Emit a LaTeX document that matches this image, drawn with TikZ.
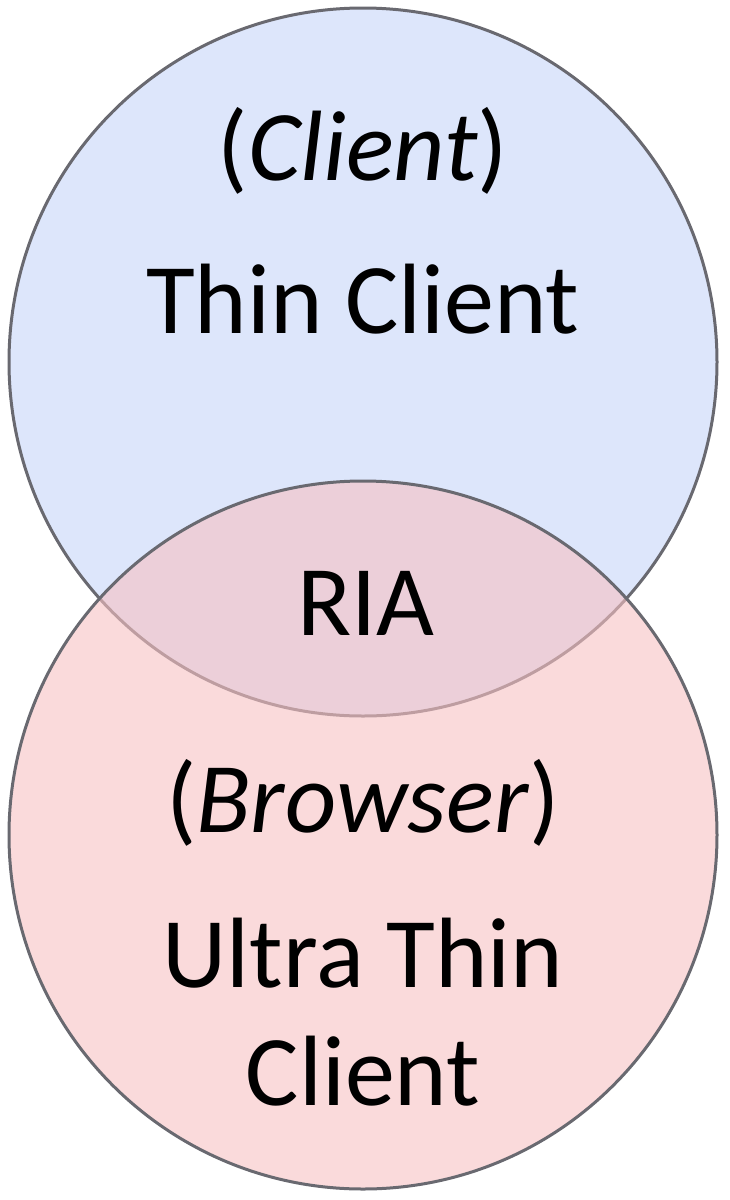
\documentclass[tikz,border=0pt]{standalone}
\usepackage{fontspec}
\setmainfont{Carlito}
\definecolor{topfill}{RGB}{221,230,251}
\definecolor{botfill}{RGB}{247,193,195}
\definecolor{edge}{RGB}{105,105,112}
\begin{document}
\begin{tikzpicture}[x=1pt,y=-1pt,
  setcircle/.style={circle, draw=edge, line width=3pt, minimum size=708pt, inner sep=0pt},
  lbl/.style={anchor=base, inner sep=0pt, font=\fontsize{100}{120}\selectfont}]
\useasboundingbox (0,0) rectangle (729,1200);
\node[setcircle, fill=topfill] (topc) at (363,362) {};
\node[setcircle, fill=botfill, fill opacity=0.6] (botc) at (363,835) {};
\node[lbl] (t1) at (363,180) {(\textit{Client})};
\node[lbl] (t2) at (363,333) {Thin Client};
\node[lbl] (ria) at (366,635) {RIA};
\node[lbl] (b1) at (363,832) {(\textit{Browser})};
\node[lbl] (b2) at (363,987) {Ultra Thin};
\node[lbl] (b3) at (363,1105) {Client};
\end{tikzpicture}
\end{document}
